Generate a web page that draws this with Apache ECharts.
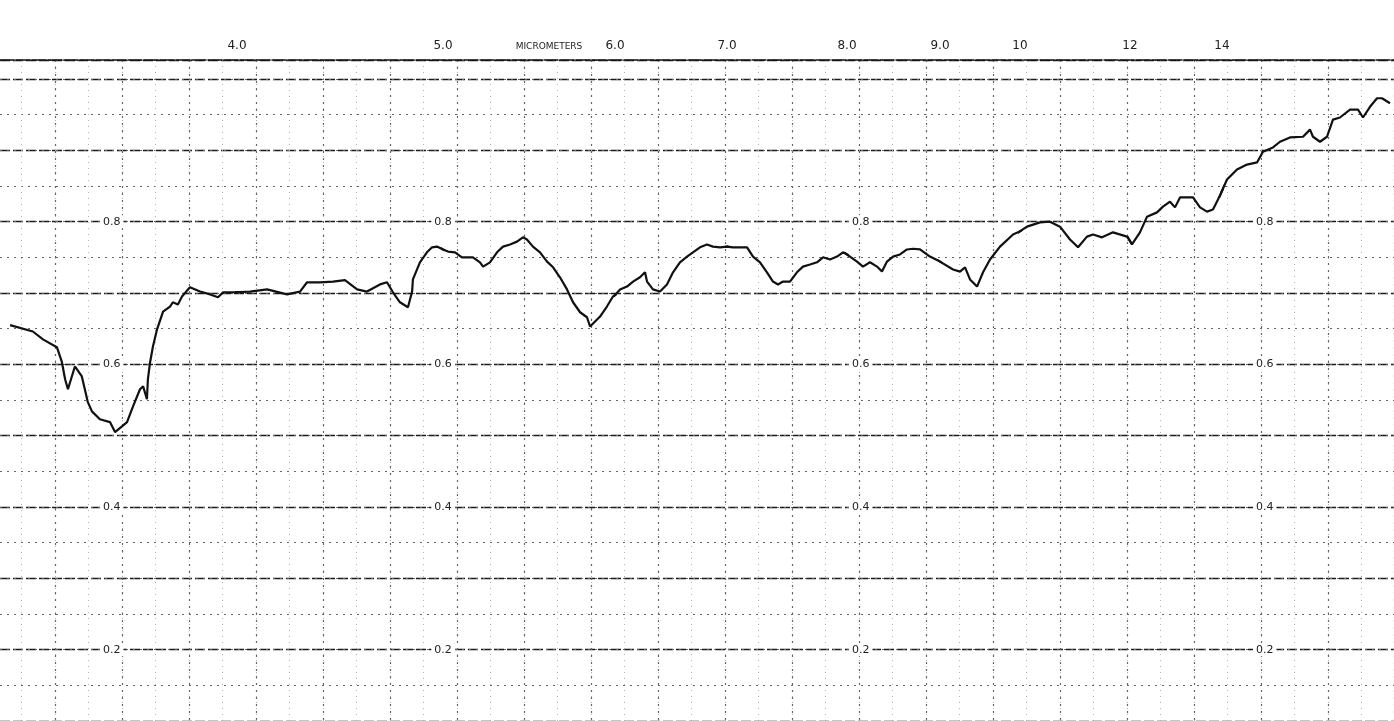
<!DOCTYPE html>
<html><head><meta charset="utf-8">
<script src="https://cdn.jsdelivr.net/npm/echarts@6/dist/echarts.min.js"></script>
<style>html,body{margin:0;padding:0;background:#fff}#c{width:1394px;height:721px}</style>
</head><body><div id="c"></div>
<script>
// ---- data ----
const wavelengthUm = [
3.282,3.354,3.386,3.430,3.446,3.456,3.465,3.487,3.509,3.528,3.541,3.566,3.598,3.614,3.636,3.652,3.671,3.693,3.703,3.715,3.718,3.725,3.734,3.747,3.766,3.788,3.797,3.813,3.826,3.851,3.883,3.915,3.940,3.956,3.987,
4.063,4.146,4.243,4.306,4.340,4.403,4.466,4.524,4.583,4.631,4.694,4.728,4.757,4.791,4.830,4.850,4.854,4.888,4.922,4.947,4.971,
5.000,5.029,5.070,5.110,5.140,5.174,5.215,5.233,5.273,5.314,5.349,5.390,5.430,5.465,5.488,5.523,5.564,5.605,5.640,5.680,5.721,5.756,5.797,5.837,5.855,5.884,5.913,5.953,5.988,
6.045,6.107,6.161,6.223,6.268,6.286,6.339,6.402,6.464,6.518,6.580,6.643,6.696,6.759,6.821,6.875,6.938,
7.000,7.050,7.108,7.167,7.217,7.275,7.333,7.383,7.425,7.467,7.525,7.583,7.633,7.692,7.750,7.800,7.858,7.917,7.967,
8.032,8.108,8.172,8.247,8.323,8.376,8.430,8.495,8.570,8.645,8.710,8.785,8.892,
9.000,9.163,9.250,9.313,9.375,9.463,9.538,9.625,9.750,9.913,
10.127,10.364,10.545,10.727,10.909,11.055,11.218,11.327,11.491,11.691,11.945,
12.043,12.217,12.370,12.587,12.717,12.870,12.978,13.087,13.370,13.522,13.674,13.804,13.913,
14.116,14.349,14.581,14.814,14.953,15.186,15.349,15.581,15.884,16.047,16.116,16.279,16.442,16.581,16.744,16.977,17.163,17.279,17.442,17.605,17.721,17.907];
const transmittance = [
0.655,0.646,0.635,0.624,0.603,0.579,0.565,0.597,0.583,0.547,0.534,0.523,0.519,0.505,0.513,0.519,0.541,0.565,0.569,0.551,0.579,0.603,0.625,0.649,0.674,0.681,0.687,0.684,0.695,0.708,0.702,0.698,0.694,0.701,0.701,
0.702,0.705,0.698,0.702,0.715,0.715,0.716,0.718,0.705,0.702,0.712,0.715,0.701,0.687,0.680,0.702,0.719,0.743,0.757,0.764,0.765,
0.761,0.758,0.757,0.750,0.750,0.750,0.743,0.737,0.743,0.757,0.765,0.768,0.772,0.778,0.775,0.765,0.757,0.744,0.736,0.722,0.705,0.687,0.673,0.666,0.653,0.660,0.667,0.681,0.695,
0.705,0.709,0.716,0.722,0.729,0.716,0.705,0.702,0.712,0.729,0.743,0.751,0.757,0.764,0.768,0.765,0.764,
0.765,0.764,0.764,0.764,0.751,0.743,0.729,0.716,0.712,0.716,0.716,0.729,0.737,0.740,0.743,0.750,0.747,0.751,0.757,
0.751,0.744,0.737,0.743,0.737,0.730,0.744,0.751,0.754,0.761,0.762,0.761,0.751,
0.744,0.733,0.730,0.736,0.719,0.709,0.729,0.747,0.765,0.782,
0.793,0.799,0.800,0.793,0.775,0.764,0.779,0.782,0.778,0.785,0.779,
0.768,0.785,0.807,0.813,0.821,0.828,0.820,0.834,0.834,0.820,0.814,0.817,0.831,
0.859,0.873,0.880,0.883,0.898,0.904,0.912,0.918,0.919,0.929,0.919,0.912,0.919,0.943,0.946,0.957,0.957,0.946,0.961,0.973,0.973,0.966];
const tickUm = [4.0, 5.0, 6.0, 7.0, 8.0, 9.0, 10, 12, 14];
const tickLabels = ['4.0', '5.0', '6.0', '7.0', '8.0', '9.0', '10', '12', '14'];
const valueLabels = [0.2, 0.4, 0.6, 0.8];
const axisTitle = 'MICROMETERS';

// ---- layout: the chart paper is stitched from pieces with an uneven wavelength scale ----
const segUm = [3.25, 4, 5, 6, 7, 8, 9, 10, 12, 14, 18];
const segPx = [0, 237, 443, 615, 727, 847, 940, 1020, 1130, 1222, 1394];
const W = 1394, TOP = 60, BOTTOM = 0;
const Y_MIN = 0.1, Y_MAX = 1.0266;
const inlineLabel = {0: {margin: 100, align: 'left'}, 2: {margin: 0, align: 'center'}, 5: {margin: 2, align: 'left'}, 9: {margin: 31, align: 'left'}};
const FONT = 'DejaVu Sans';

const grids = [], xAxes = [], yAxes = [], series = [];
// background grid: horizontal rulings + top border
grids.push({left: 0, right: 0, top: TOP, bottom: BOTTOM});
xAxes.push({gridIndex: 0, type: 'value', min: 0, max: 1, position: 'top',
  axisLine: {show: true, lineStyle: {color: '#111', width: 1.6, type: [14, 2]}},
  axisTick: {show: false}, axisLabel: {show: false}, splitLine: {show: false}});
yAxes.push({gridIndex: 0, type: 'value', min: Y_MIN, max: Y_MAX, interval: 0.1,
  axisLine: {show: false}, axisTick: {show: false}, axisLabel: {show: false},
  splitLine: {show: true, lineStyle: {color: '#1a1a1a', width: 1.3, type: [10, 3]}}});
yAxes.push({gridIndex: 0, type: 'value', min: Y_MIN, max: Y_MAX, interval: 0.05,
  axisLine: {show: false}, axisTick: {show: false}, axisLabel: {show: false},
  splitLine: {show: true, lineStyle: {color: '#666', width: 1, type: [2, 5]}}});
// vertical chart-paper rulings (decorative)
const vGrid = [{left: 21.5, step: 33.5, interval: 1, color: '#b0b0b0', type: [1, 5], width: 1},
               {left: 55, step: 33.5, interval: 2, color: '#666', type: [2, 5], width: 1.2}];
vGrid.forEach((g, k) => {
  grids.push({left: g.left, right: 0, top: TOP, bottom: BOTTOM});
  xAxes.push({gridIndex: 1 + k, type: 'value', min: 0, max: (W - g.left) / g.step, interval: g.interval,
    axisLine: {show: false}, axisTick: {show: false}, axisLabel: {show: false},
    splitLine: {show: true, lineStyle: {color: g.color, type: g.type, width: g.width}}});
  yAxes.push({gridIndex: 1 + k, type: 'value', min: Y_MIN, max: Y_MAX, show: false});
});
// wavelength segments
const nSeg = segUm.length - 1;
for (let i = 0; i < nSeg; i++) {
  const gi = grids.length;
  grids.push({left: segPx[i], width: segPx[i + 1] - segPx[i], top: TOP, bottom: BOTTOM});
  const lo = segUm[i], hi = segUm[i + 1];
  const tIdx = tickUm.indexOf(lo);
  const xa = {gridIndex: gi, type: 'value', min: lo, max: hi, position: 'top',
    axisLine: {show: false}, axisTick: {show: false}, splitLine: {show: false},
    axisLabel: {show: tIdx >= 0, customValues: tIdx >= 0 ? [lo] : [], showMinLabel: true, showMaxLabel: false,
      margin: 8, fontSize: 12, color: '#222', fontFamily: FONT,
      formatter: v => { const j = tickUm.indexOf(v); return j >= 0 ? tickLabels[j] : ''; }}};
  if (i === 2) {
    Object.assign(xa, {name: axisTitle, nameLocation: 'middle', nameGap: 9, nameMoveOverlap: false,
      nameTextStyle: {fontSize: 9, color: '#222', fontFamily: FONT, padding: [0, 0, 0, 40]}});
  }
  xAxes.push(xa);
  const il = inlineLabel[i];
  yAxes.push({gridIndex: gi, type: 'value', min: Y_MIN, max: Y_MAX,
    axisLine: {show: false}, axisTick: {show: false}, splitLine: {show: false},
    axisLabel: {show: !!il, inside: true, customValues: valueLabels, margin: il ? il.margin : 0,
      align: il ? il.align : 'left', fontSize: 11, color: '#222', fontFamily: FONT,
      backgroundColor: '#fff', padding: [1, 3], formatter: v => v.toFixed(1)}});
  // line piece for this segment (one point beyond each edge so the trace is continuous; clipped)
  let a = -1, b = -1;
  wavelengthUm.forEach((w, k) => { if (w >= lo && w <= hi) { if (a < 0) a = k; b = k; } });
  const pts = [];
  if (a >= 0) {
    for (let k = Math.max(0, a - 1); k <= Math.min(wavelengthUm.length - 1, b + 1); k++) pts.push([wavelengthUm[k], transmittance[k]]);
  }
  series.push({type: 'line', xAxisIndex: xAxes.length - 1, yAxisIndex: yAxes.length - 1, data: pts,
    showSymbol: false, clip: true, silent: true, z: 5,
    lineStyle: {color: '#111', width: 2.2}});
}

const chart = echarts.init(document.getElementById('c'), null, {renderer: 'canvas'});
chart.setOption({backgroundColor: '#fff', animation: false, grid: grids, xAxis: xAxes, yAxis: yAxes, series: series});
</script></body></html>
